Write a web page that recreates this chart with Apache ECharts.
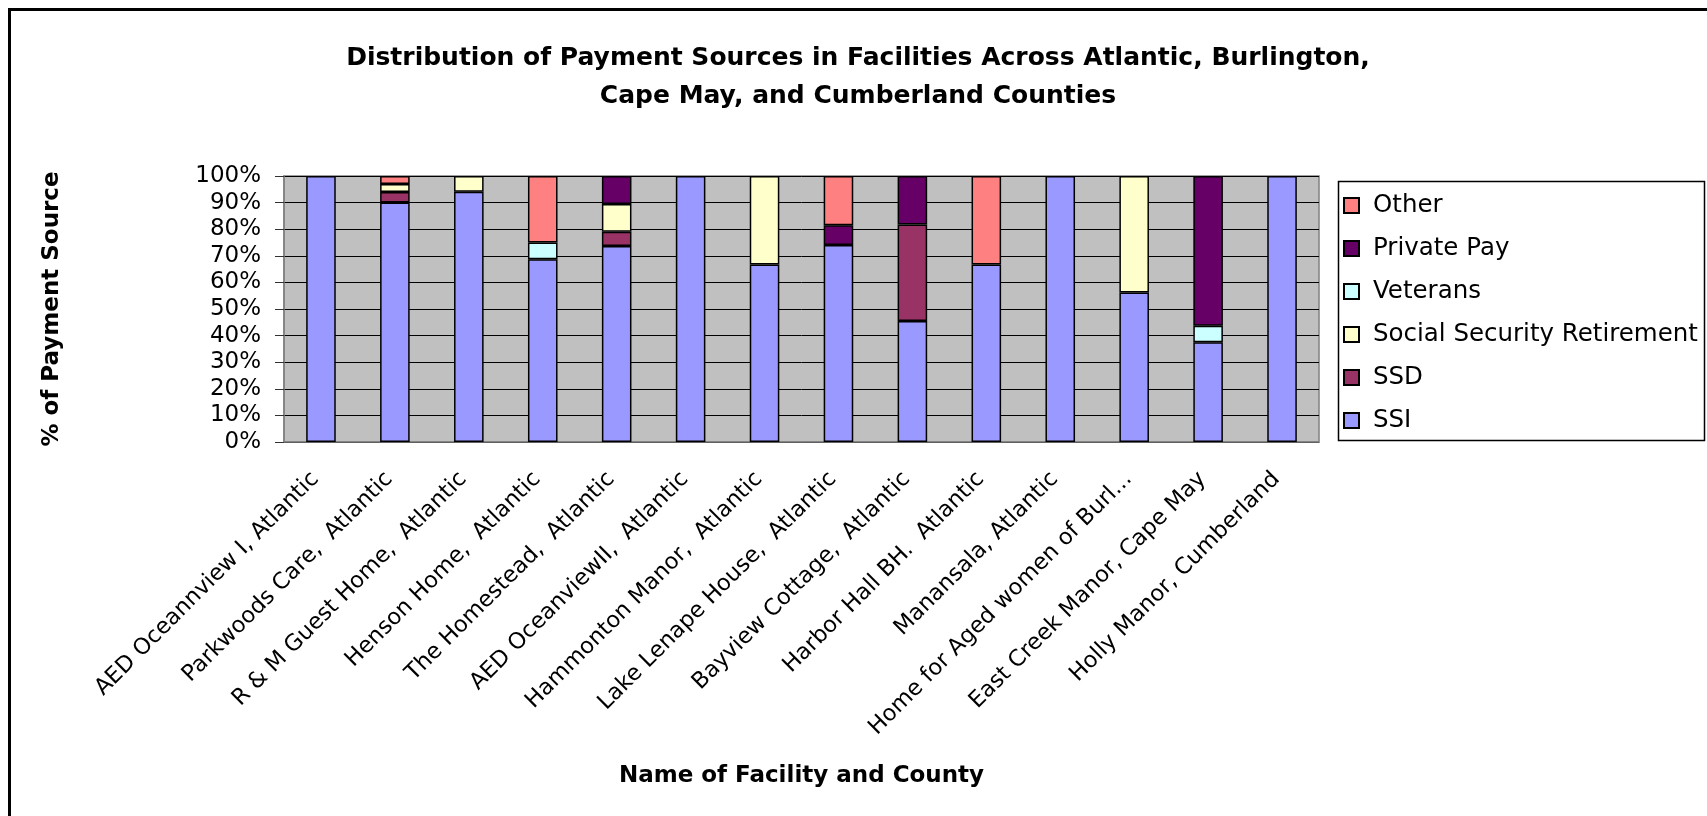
<!DOCTYPE html>
<html>
<head>
<meta charset="utf-8">
<script src="https://cdn.jsdelivr.net/npm/echarts@6/dist/echarts.min.js"></script>
<style>
  html, body { margin: 0; padding: 0; background: #fff; }
  #myChart { width: 1707px; height: 816px; }
</style>
</head>
<body>
<div id="myChart"></div>
<script>
// facilities on the x axis
var facilities = [
  "AED Oceannview I, Atlantic",
  "Parkwoods Care,  Atlantic",
  "R & M Guest Home,  Atlantic",
  "Henson Home,  Atlantic",
  "The Homestead,  Atlantic",
  "AED OceanviewII,  Atlantic",
  "Hammonton Manor,  Atlantic",
  "Lake Lenape House,  Atlantic",
  "Bayview Cottage,  Atlantic",
  "Harbor Hall BH.  Atlantic",
  "Manansala, Atlantic",
  "Home for Aged women of Burl...",
  "East Creek Manor, Cape May",
  "Holly Manor, Cumberland"
];

// percent of residents per payment source
var ssi        = [100, 90, 94.1, 68.75, 73.7, 100, 66.7, 74.1, 45.5, 66.7, 100, 56.25, 37.5, 100];
var ssd        = [0, 4, 0, 0, 5.3, 0, 0, 0, 36.3, 0, 0, 0, 0, 0];
var ssr        = [0, 3, 5.9, 0, 10.5, 0, 33.3, 0, 0, 0, 0, 43.75, 0, 0];
var veterans   = [0, 0, 0, 6.25, 0, 0, 0, 0, 0, 0, 0, 0, 6.25, 0];
var privatePay = [0, 0, 0, 0, 10.5, 0, 0, 7.4, 18.2, 0, 0, 0, 56.25, 0];
var other      = [0, 3, 0, 25, 0, 0, 0, 18.5, 0, 33.3, 0, 0, 0, 0];

var font = "DejaVu Sans";

function makeSeries(name, data, color) {
  return {
    name: name,
    type: "bar",
    stack: "total",
    barWidth: "40%",
    itemStyle: { color: color, borderColor: "#000", borderWidth: 1.5 },
    data: data.map(function (v) { return v === 0 ? null : v; })
  };
}

var option = {
  backgroundColor: "#fff",
  animation: false,
  title: {
    text: "Distribution of Payment Sources in Facilities Across Atlantic, Burlington,\nCape May, and Cumberland Counties",
    left: 853,
    top: 34,
    textAlign: "center",
    textStyle: { fontFamily: font, fontWeight: "bold", fontSize: 25, lineHeight: 38, color: "#000" }
  },
  legend: {
    orient: "vertical",
    left: 1343,
    top: 193,
    padding: 0,
    itemWidth: 15,
    itemHeight: 15,
    itemGap: 18,
    icon: "rect",
    selectedMode: false,
    textStyle: { fontFamily: font, fontSize: 24.5, lineHeight: 24, color: "#000", padding: [0, 0, 0, 9] },
    data: ["Other", "Private Pay", "Veterans", "Social Security Retirement", "SSD", "SSI"]
  },
  grid: {
    left: 284,
    top: 176,
    right: 388,
    bottom: 374,
    show: true,
    backgroundColor: "#c0c0c0",
    borderColor: "#808080",
    borderWidth: 1.5
  },
  xAxis: {
    type: "category",
    data: facilities,
    name: "Name of Facility and County",
    nameLocation: "middle",
    nameGap: 323,
    nameTextStyle: { fontFamily: font, fontWeight: "bold", fontSize: 23, color: "#000" },
    axisLine: { lineStyle: { color: "#808080", width: 1.5 } },
    axisTick: { length: 9, lineStyle: { color: "#333" } },
    axisLabel: {
      interval: 0,
      rotate: 45,
      margin: 28,
      padding: [0, 8, 0, 0],
      fontFamily: font,
      fontSize: 22.5,
      color: "#000"
    }
  },
  yAxis: {
    type: "value",
    min: 0,
    max: 100,
    interval: 10,
    name: "% of Payment Source",
    nameLocation: "middle",
    nameRotate: 90,
    nameGap: 220,
    nameTextStyle: { fontFamily: font, fontWeight: "bold", fontSize: 23, color: "#000" },
    axisLine: { show: true, lineStyle: { color: "#808080", width: 1.5 } },
    axisTick: { show: true, length: 9, lineStyle: { color: "#333" } },
    axisLabel: { margin: 23, fontFamily: font, fontSize: 23, color: "#000", formatter: "{value}%" },
    splitLine: { lineStyle: { color: "#000", width: 1 } }
  },
  graphic: [
    {
      type: "rect",
      left: 7, top: 7,
      shape: { width: 1800, height: 900 },
      style: { fill: null, stroke: "#000", lineWidth: 3 },
      silent: true
    },
    {
      type: "rect",
      left: 1336, top: 179,
      shape: { width: 366, height: 259 },
      style: { fill: null, stroke: "#000", lineWidth: 1.5 },
      silent: true
    }
  ],
  series: [
    makeSeries("SSI", ssi, "#9999ff"),
    makeSeries("SSD", ssd, "#993366"),
    makeSeries("Social Security Retirement", ssr, "#ffffcc"),
    makeSeries("Veterans", veterans, "#ccffff"),
    makeSeries("Private Pay", privatePay, "#660066"),
    makeSeries("Other", other, "#ff8080")
  ]
};

var chartDom = document.getElementById("myChart");
var myChart = echarts.init(chartDom);
myChart.setOption(option);
</script>
</body>
</html>
